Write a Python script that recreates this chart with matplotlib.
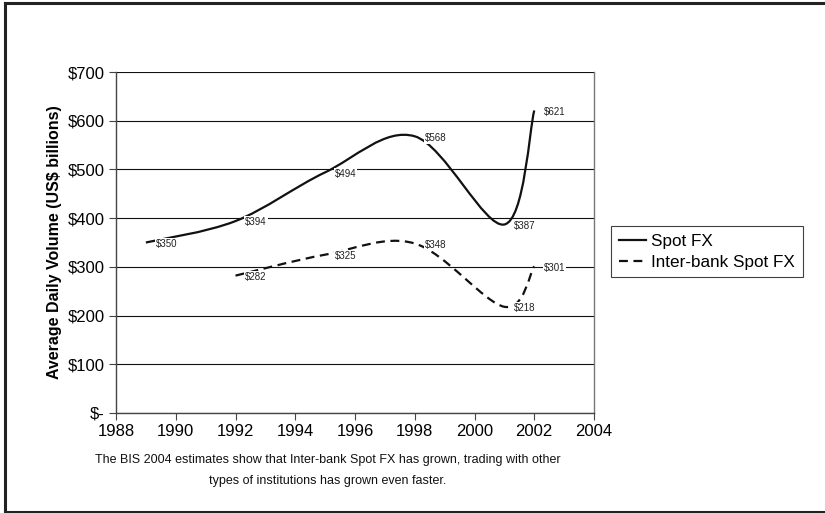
import numpy as np
import matplotlib
matplotlib.use("Agg")
import matplotlib.pyplot as plt
from matplotlib.path import Path
from matplotlib.patches import PathPatch
from matplotlib.lines import Line2D

plt.rcParams["font.family"] = ["Liberation Sans", "DejaVu Sans"]

# --- data -------------------------------------------------------------------
spot_years = [1989, 1992, 1995, 1998, 2001, 2002]
spot_vals = [350, 394, 494, 568, 387, 621]
inter_years = [1992, 1995, 1998, 2001, 2002]
inter_vals = [282, 325, 348, 218, 301]

x_ticks = list(range(1988, 2005, 2))
y_ticks = [0, 100, 200, 300, 400, 500, 600, 700]
y_labels = ["$-"] + [f"${v}" for v in y_ticks[1:]]

caption = ("The BIS 2004 estimates show that Inter-bank Spot FX has grown, trading with other\n"
           "types of institutions has grown even faster.")


def smooth_path(xs, ys):
    """Excel-style smoothed line: Catmull-Rom tangents as cubic Bezier segments."""
    pts = np.column_stack([xs, ys]).astype(float)
    n = len(pts)
    verts, codes = [pts[0]], [Path.MOVETO]
    for i in range(n - 1):
        p0, p1 = pts[max(i - 1, 0)], pts[i]
        p2, p3 = pts[i + 1], pts[min(i + 2, n - 1)]
        verts += [p1 + (p2 - p0) / 6, p2 - (p3 - p1) / 6, p2]
        codes += [Path.CURVE4] * 3
    return Path(verts, codes)


fig = plt.figure(figsize=(8.25, 5.13), dpi=100)
ax = fig.add_axes([116 / 825, 1 - 413 / 513, 478 / 825, 341 / 513])

dash = (0, (4, 2.5))
ax.add_patch(PathPatch(smooth_path(spot_years, spot_vals), fill=False,
                       edgecolor="#111111", linewidth=1.6, zorder=3))
ax.add_patch(PathPatch(smooth_path(inter_years, inter_vals), fill=False,
                       edgecolor="#111111", linewidth=1.6, linestyle=dash,
                       zorder=3))

for xs, ys in ((spot_years, spot_vals), (inter_years, inter_vals)):
    for x, y in zip(xs, ys):
        ax.annotate(f"${y}", (x, y), textcoords="offset points", xytext=(7, -1),
                    ha="left", va="center", fontsize=7, color="#222222",
                    bbox=dict(boxstyle="square,pad=0.1", fc="white", ec="none"),
                    zorder=4)

ax.set_xlim(1988, 2004)
ax.set_ylim(0, 700)
ax.set_xticks(x_ticks)
ax.set_yticks(y_ticks)
ax.set_yticklabels(y_labels)
ax.tick_params(axis="both", direction="out", length=5, width=0.8,
               labelsize=12, pad=3, color="#444444")
ax.yaxis.grid(True, color="#111111", linewidth=0.8)
ax.set_axisbelow(True)
for side in ("left", "bottom"):
    ax.spines[side].set_color("#444444")
    ax.spines[side].set_linewidth(1.0)
ax.spines["right"].set_color("#777777")
ax.spines["right"].set_linewidth(1.0)
ax.spines["top"].set_visible(False)

ax.set_ylabel("Average Daily Volume (US$ billions)", fontsize=11.5,
              fontweight="bold", labelpad=4)

handles = [Line2D([], [], color="#111111", linewidth=1.6, label="Spot FX"),
           Line2D([], [], color="#111111", linewidth=1.6, linestyle=dash,
                  label="Inter-bank Spot FX")]
leg = fig.legend(handles=handles, loc="upper left",
                 bbox_to_anchor=(611 / 825, 1 - 226 / 513), borderaxespad=0,
                 fontsize=12.3, frameon=True, fancybox=False, handlelength=1.6,
                 handletextpad=0.3, borderpad=0.45, labelspacing=0.35)
leg.get_frame().set_edgecolor("#111111")
leg.get_frame().set_linewidth(0.8)

fig.text(328 / 825, 1 - 470.5 / 513, caption, ha="center", va="center",
         fontsize=9, linespacing=2.0, color="#111111")

# outer chart border (left, top, bottom)
for xy in (([5 / 825, 5 / 825], [1.5 / 513, 1 - 3 / 513]),
           ([5 / 825, 1], [1 - 3 / 513, 1 - 3 / 513]),
           ([5 / 825, 1], [1.5 / 513, 1.5 / 513])):
    fig.add_artist(Line2D(*xy, transform=fig.transFigure, color="#222222",
                          linewidth=2.2))

fig.savefig("out.png", dpi=100)
